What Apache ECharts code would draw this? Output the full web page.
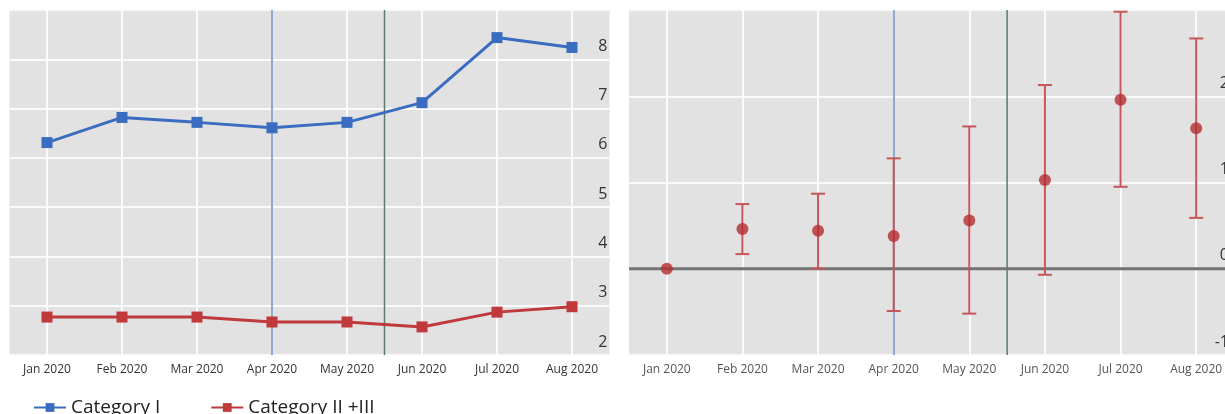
<!DOCTYPE html>
<html>
<head>
<meta charset="utf-8">
<script src="https://cdn.jsdelivr.net/npm/echarts@6/dist/echarts.min.js"></script>
<style>
  html, body { margin: 0; padding: 0; background: #fff; }
  #main { width: 1225px; height: 414px; }
</style>
</head>
<body>
<div id="main"></div>
<script>
// 数据
var months = ['Jan 2020', 'Feb 2020', 'Mar 2020', 'Apr 2020', 'May 2020', 'Jun 2020', 'Jul 2020', 'Aug 2020'];
var catI = [6.31, 6.82, 6.72, 6.61, 6.72, 7.12, 8.44, 8.24];
var catII = [2.77, 2.77, 2.77, 2.67, 2.67, 2.57, 2.87, 2.98];
// 右图：均值与误差范围
var diffMean = [0, 0.46, 0.44, 0.38, 0.56, 1.03, 1.96, 1.63];
var diffLow = [0, 0.17, 0, -0.49, -0.52, -0.07, 0.95, 0.59];
var diffHigh = [0, 0.75, 0.87, 1.28, 1.65, 2.13, 2.98, 2.67];
var markMonth = 'Apr 2020'; // 蓝色竖线
var splitIndex = 5;          // 绿色竖线（May/Jun 之间）
var baseValue = 0;           // 右图基准线

var gridBg = '#e2e2e2';
var blueLine = '#6a8fbf';
var greenLine = '#587d66';

function xAxisOf(gi, labelColor) {
  return {
    type: 'category', gridIndex: gi, data: months, boundaryGap: true,
    axisLine: { show: false },
    axisTick: { show: true, inside: true, alignWithLabel: true, length: 13, lineStyle: { color: '#333', width: 2 } },
    axisLabel: { margin: 9, fontSize: 12, color: labelColor, fontFamily: 'Open Sans' },
    splitLine: { show: false }
  };
}

function yAxisOf(gi, min, max, margin) {
  return {
    type: 'value', gridIndex: gi, position: 'right', min: min, max: max, interval: 1,
    axisLine: { show: false }, axisTick: { show: false },
    axisLabel: {
      inside: true, margin: margin, fontSize: 16, color: '#333', fontFamily: 'Open Sans',
      verticalAlign: 'bottom', padding: [0, 0, 5, 0], showMaxLabel: false
    },
    splitLine: { show: true, lineStyle: { color: '#fafafa', width: 2 } }
  };
}

// 竖向白色网格线 + 蓝色标记线
function vLines() {
  var arr = months.map(function (m) {
    return { xAxis: m, lineStyle: { color: '#fafafa', width: 2, type: 'solid' } };
  });
  arr.push({ xAxis: markMonth, lineStyle: { color: blueLine, width: 1.5, type: 'solid' } });
  return arr;
}

// 绿色分隔线：画在 splitIndex-1 与 splitIndex 两个类目之间
function splitSeries(gi) {
  return {
    type: 'custom', xAxisIndex: gi, yAxisIndex: gi, z: 2, silent: true,
    data: [[splitIndex]],
    renderItem: function (params, api) {
      var a = api.coord([api.value(0) - 1, 0]);
      var b = api.coord([api.value(0), 0]);
      var x = (a[0] + b[0]) / 2;
      var cs = params.coordSys;
      return {
        type: 'line',
        shape: { x1: x, y1: cs.y, x2: x, y2: cs.y + cs.height },
        style: { stroke: greenLine, lineWidth: 1.5 }
      };
    }
  };
}

var myChart = echarts.init(document.getElementById('main'));
var option = {
  animation: false,
  grid: [
    { left: 9.5, top: 10, width: 600, height: 345, show: true, backgroundColor: gridBg, borderWidth: 0, outerBoundsMode: 'none' },
    { left: 629, top: 10, width: 605, height: 345, show: true, backgroundColor: gridBg, borderWidth: 0, outerBoundsMode: 'none' }
  ],
  xAxis: [xAxisOf(0, '#333'), xAxisOf(1, '#555')],
  yAxis: [yAxisOf(0, 2, 9, 2), yAxisOf(1, -1, 3, 5)],
  legend: {
    data: ['Category I', 'Category II +III'],
    left: 28, top: 393, itemWidth: 32, itemHeight: 11, itemGap: 50,
    textStyle: { fontSize: 19, color: '#222', fontFamily: 'Open Sans' }
  },
  series: [
    {
      type: 'line', xAxisIndex: 0, yAxisIndex: 0, data: [], z: 1, silent: true,
      markLine: { z: 1, silent: true, symbol: 'none', label: { show: false }, data: vLines() }
    },
    {
      type: 'line', xAxisIndex: 1, yAxisIndex: 1, data: [], z: 1, silent: true,
      markLine: { z: 1, silent: true, symbol: 'none', label: { show: false }, data: vLines() }
    },
    splitSeries(0),
    splitSeries(1),
    {
      // 右图 0 基准线，横贯整个绘图区
      type: 'custom', xAxisIndex: 1, yAxisIndex: 1, z: 2, silent: true,
      data: [[0, baseValue]],
      renderItem: function (params, api) {
        var p = api.coord([0, api.value(1)]);
        var cs = params.coordSys;
        return {
          type: 'line',
          shape: { x1: cs.x, y1: p[1], x2: cs.x + cs.width, y2: p[1] },
          style: { stroke: '#737373', lineWidth: 3 }
        };
      }
    },
    {
      name: 'Category I', type: 'line', xAxisIndex: 0, yAxisIndex: 0, data: catI, z: 3,
      color: '#3a6cbf', symbol: 'rect', symbolSize: 11, lineStyle: { width: 3 },
      itemStyle: { color: '#3a6cbf', borderWidth: 0 }
    },
    {
      name: 'Category II +III', type: 'line', xAxisIndex: 0, yAxisIndex: 0, data: catII, z: 3,
      color: '#c0393b', symbol: 'rect', symbolSize: 11, lineStyle: { width: 3 },
      itemStyle: { color: '#c0393b', borderWidth: 0 }
    },
    {
      type: 'custom', xAxisIndex: 1, yAxisIndex: 1, z: 3,
      data: months.map(function (m, i) { return [i, diffLow[i], diffHigh[i]]; }),
      renderItem: function (params, api) {
        var lo = api.value(1), hi = api.value(2);
        if (lo === hi) return;
        var p1 = api.coord([api.value(0), hi]);
        var p2 = api.coord([api.value(0), lo]);
        var w = 7;
        var st = { stroke: '#c4575a', lineWidth: 2 };
        return {
          type: 'group',
          children: [
            { type: 'line', shape: { x1: p1[0], y1: p1[1], x2: p2[0], y2: p2[1] }, style: st },
            { type: 'line', shape: { x1: p1[0] - w, y1: p1[1], x2: p1[0] + w, y2: p1[1] }, style: st },
            { type: 'line', shape: { x1: p2[0] - w, y1: p2[1], x2: p2[0] + w, y2: p2[1] }, style: st }
          ]
        };
      }
    },
    {
      type: 'scatter', xAxisIndex: 1, yAxisIndex: 1, data: diffMean, z: 4,
      symbol: 'circle', symbolSize: 12, itemStyle: { color: '#b52d2f' }
    }
  ]
};
myChart.setOption(option);
</script>
</body>
</html>
